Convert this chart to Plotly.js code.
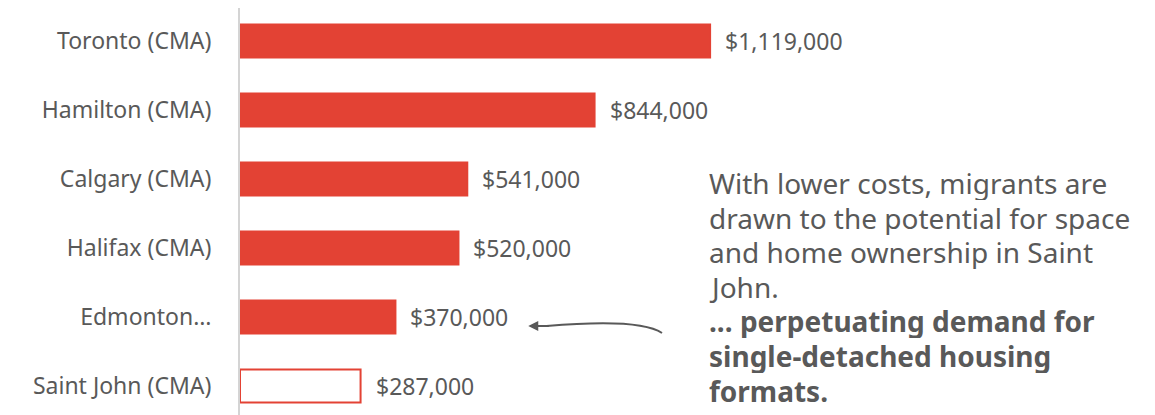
<!DOCTYPE html>
<html>
<head>
<meta charset="utf-8">
<script src="https://cdn.plot.ly/plotly-3.0.1.min.js"></script>
<style>
  body { margin: 0; background: #fff; }
  #chart { width: 1155px; height: 415px; }
</style>
</head>
<body>
<div id="chart"></div>
<script>
var cities = ['Toronto (CMA)', 'Hamilton (CMA)', 'Calgary (CMA)', 'Halifax (CMA)', 'Edmonton…', 'Saint John (CMA)'];
var prices = [1119000, 844000, 541000, 520000, 370000, 287000];
var priceLabels = ['$1,119,000', '$844,000', '$541,000', '$520,000', '$370,000', '$287,000'];

var storyLines = [
    'With lower costs, migrants are',
    'drawn to the potential for space',
    'and home ownership in Saint',
    'John.',
    '<b>... perpetuating demand for</b>',
    '<b>single-detached housing</b>',
    '<b>formats.</b>'
];

var red = '#e34234';
var grey = '#595959';
var font = '"Noto Sans", sans-serif';

var H = 415, T = 8;
function paperY(px) { return (H - px) / (H - T); }

var fills = cities.map(function (c, i) { return i === cities.length - 1 ? '#ffffff' : red; });

var trace = {
    type: 'bar',
    orientation: 'h',
    x: prices,
    y: cities,
    width: 0.48,
    marker: {
        color: fills,
        line: { color: red, width: 2 }
    },
    hoverinfo: 'skip'
};

// value labels beside each bar
var valueNotes = prices.map(function (p, i) {
    return {
        x: p, y: cities[i], xref: 'x', yref: 'y',
        text: priceLabels[i], showarrow: false,
        xanchor: 'left', xshift: 13,
        font: { family: font, size: 23, color: grey }
    };
});

// commentary on the right, one annotation per line so spacing is tight
var storyNotes = storyLines.map(function (line, i) {
    return {
        xref: 'paper', yref: 'paper', x: 0.5104, y: paperY(183 + i * 34.6),
        xanchor: 'left', yanchor: 'middle', align: 'left', valign: 'middle',
        height: 34, showarrow: false,
        text: line,
        font: { family: font, size: 28, color: grey }
    };
});

var arrowHead = {
    xref: 'paper', yref: 'paper', x: 0.315, y: paperY(326),
    ax: 22, ay: 0, text: '', showarrow: true,
    arrowhead: 2, arrowsize: 1, arrowwidth: 2, arrowcolor: grey
};

var layout = {
    width: 1155,
    height: H,
    margin: { l: 240, r: 0, t: T, b: 0 },
    paper_bgcolor: '#ffffff',
    plot_bgcolor: '#ffffff',
    showlegend: false,
    xaxis: {
        range: [0, 2178000],
        showgrid: false, zeroline: false, showline: false,
        showticklabels: false, fixedrange: true
    },
    yaxis: {
        type: 'category',
        range: [5.42, -0.478],
        showgrid: false, zeroline: false,
        showline: true, linecolor: '#d4d4d4', linewidth: 2,
        ticks: '', ticklabelstandoff: 22,
        tickfont: { family: font, size: 23, color: grey },
        fixedrange: true
    },
    shapes: [{
        type: 'path', xref: 'paper', yref: 'paper',
        path: 'M 0.4612 ' + paperY(333) + ' Q 0.4372 ' + paperY(318) + ' 0.335 ' + paperY(326),
        line: { color: grey, width: 2 }
    }],
    annotations: valueNotes.concat(storyNotes, [arrowHead])
};

Plotly.newPlot('chart', [trace], layout, { displayModeBar: false, staticPlot: true });
</script>
</body>
</html>
